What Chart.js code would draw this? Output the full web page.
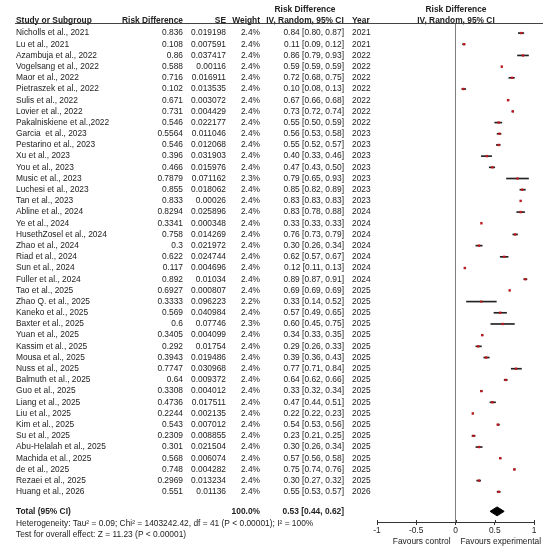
<!DOCTYPE html>
<html>
<head>
<meta charset="utf-8">
<script src="https://cdn.jsdelivr.net/npm/chart.js@4"></script>
<style>
  html, body { margin: 0; padding: 0; background: #fff; }
  #wrap { width: 550px; height: 553px; }
</style>
</head>
<body>
<div id="wrap"><canvas id="forest" width="550" height="553"></canvas></div>
<script>
// --- data ---
const studies = [
  "Nicholls et al., 2021", "Lu et al., 2021", "Azambuja et al., 2022", "Vogelsang et al., 2022",
  "Maor et al., 2022", "Pietraszek et al., 2022", "Sulis et al., 2022", "Lovier et al., 2022",
  "Pakalniskiene et al.,2022", "Garcia  et al., 2023", "Pestarino et al., 2023", "Xu et al., 2023",
  "You et al., 2023", "Music et al., 2023", "Luchesi et al., 2023", "Tan et al., 2023",
  "Abline et al., 2024", "Ye et al., 2024", "HusethZosel et al., 2024", "Zhao et al., 2024",
  "Riad et al., 2024", "Sun et al., 2024", "Fuller et al., 2024", "Tao et al., 2025",
  "Zhao Q. et al., 2025", "Kaneko et al., 2025", "Baxter et al., 2025", "Yuan et al., 2025",
  "Kassim et al., 2025", "Mousa et al., 2025", "Nuss et al., 2025", "Balmuth et al., 2025",
  "Guo et al., 2025", "Liang et al., 2025", "Liu et al., 2025", "Kim et al., 2025",
  "Su et al., 2025", "Abu-Helalah et al., 2025", "Machida et al., 2025", "de et al., 2025",
  "Rezaei et al., 2025", "Huang et al., 2026"
];
const riskDiff = [
  "0.836", "0.108", "0.86", "0.588", "0.716", "0.102", "0.671", "0.731", "0.546", "0.5564",
  "0.546", "0.396", "0.466", "0.7879", "0.855", "0.833", "0.8294", "0.3341", "0.758", "0.3",
  "0.622", "0.117", "0.892", "0.6927", "0.3333", "0.569", "0.6", "0.3405", "0.292", "0.3943",
  "0.7747", "0.64", "0.3308", "0.4736", "0.2244", "0.543", "0.2309", "0.301", "0.568", "0.748",
  "0.2969", "0.551"
];
const stdErr = [
  "0.019198", "0.007591", "0.037417", "0.00116", "0.016911", "0.013535", "0.003072", "0.004429",
  "0.022177", "0.011046", "0.012068", "0.031903", "0.015976", "0.071162", "0.018062", "0.00026",
  "0.025896", "0.000348", "0.014269", "0.021972", "0.024744", "0.004696", "0.01034", "0.000807",
  "0.096223", "0.040984", "0.07746", "0.004099", "0.01754", "0.019486", "0.030968", "0.009372",
  "0.004012", "0.017511", "0.002135", "0.007012", "0.008855", "0.021504", "0.006074", "0.004282",
  "0.013234", "0.01136"
];
const weights = [
  2.4, 2.4, 2.4, 2.4, 2.4, 2.4, 2.4, 2.4, 2.4, 2.4, 2.4, 2.4, 2.4, 2.3, 2.4, 2.4, 2.4, 2.4, 2.4, 2.4,
  2.4, 2.4, 2.4, 2.4, 2.2, 2.4, 2.3, 2.4, 2.4, 2.4, 2.4, 2.4, 2.4, 2.4, 2.4, 2.4, 2.4, 2.4, 2.4, 2.4,
  2.4, 2.4
];
const estimate = [
  0.84, 0.11, 0.86, 0.59, 0.72, 0.10, 0.67, 0.73, 0.55, 0.56, 0.55, 0.40, 0.47, 0.79, 0.85, 0.83,
  0.83, 0.33, 0.76, 0.30, 0.62, 0.12, 0.89, 0.69, 0.33, 0.57, 0.60, 0.34, 0.29, 0.39, 0.77, 0.64,
  0.33, 0.47, 0.22, 0.54, 0.23, 0.30, 0.57, 0.75, 0.30, 0.55
];
const ciLow = [
  0.80, 0.09, 0.79, 0.59, 0.68, 0.08, 0.66, 0.72, 0.50, 0.53, 0.52, 0.33, 0.43, 0.65, 0.82, 0.83,
  0.78, 0.33, 0.73, 0.26, 0.57, 0.11, 0.87, 0.69, 0.14, 0.49, 0.45, 0.33, 0.26, 0.36, 0.71, 0.62,
  0.32, 0.44, 0.22, 0.53, 0.21, 0.26, 0.56, 0.74, 0.27, 0.53
];
const ciHigh = [
  0.87, 0.12, 0.93, 0.59, 0.75, 0.13, 0.68, 0.74, 0.59, 0.58, 0.57, 0.46, 0.50, 0.93, 0.89, 0.83,
  0.88, 0.33, 0.79, 0.34, 0.67, 0.13, 0.91, 0.69, 0.52, 0.65, 0.75, 0.35, 0.33, 0.43, 0.84, 0.66,
  0.34, 0.51, 0.23, 0.56, 0.25, 0.34, 0.58, 0.76, 0.32, 0.57
];
const years = [
  2021, 2021, 2022, 2022, 2022, 2022, 2022, 2022, 2022, 2023, 2023, 2023, 2023, 2023, 2023, 2023,
  2024, 2024, 2024, 2024, 2024, 2024, 2024, 2025, 2025, 2025, 2025, 2025, 2025, 2025, 2025, 2025,
  2025, 2025, 2025, 2025, 2025, 2025, 2025, 2025, 2025, 2026
];
const pooled = { est: 0.53, low: 0.44, high: 0.62 };
const xTicks = [-1, -0.5, 0, 0.5, 1];

// --- layout ---
const FONT = "'Liberation Sans', Arial, sans-serif";
const FS = 8.4;
const TEXT = "#222";
const totalRow = studies.length + 0.8;

Chart.defaults.font.family = FONT;
Chart.defaults.font.size = FS;
Chart.defaults.color = TEXT;

// columns drawn next to the plot
const tablePlugin = {
  id: "table",
  afterDraw(chart) {
    const { ctx } = chart;
    const y = chart.scales.y;
    const x = chart.scales.x;
    const py = v => y.getPixelForValue(v);
    const put = (s, px, v, align, bold, abs) => {
      ctx.font = (bold ? "bold " : "") + FS + "px " + FONT;
      ctx.textAlign = align;
      ctx.fillText(s, px, abs ? v : py(v));
    };
    ctx.save();
    ctx.fillStyle = TEXT;
    ctx.textBaseline = "middle";

    // header
    put("Risk Difference", 305, -2.05, "center", true);
    put("Risk Difference", 456, -2.05, "center", true);
    put("Study or Subgroup", 16, -1.1, "left", true);
    put("Risk Difference", 183, -1.1, "right", true);
    put("SE", 226, -1.1, "right", true);
    put("Weight", 260, -1.1, "right", true);
    put("IV, Random, 95% CI", 305, -1.1, "center", true);
    put("Year", 352, -1.1, "left", true);
    put("IV, Random, 95% CI", 456, -1.1, "center", true);

    ctx.strokeStyle = "#444";
    ctx.lineWidth = 1;
    ctx.beginPath();
    ctx.moveTo(15, Math.round(py(-0.9)) + 0.5);
    ctx.lineTo(543, Math.round(py(-0.9)) + 0.5);
    ctx.stroke();

    // tick marks also reach a little above the axis line
    const axisY = Math.round(chart.chartArea.bottom);
    ctx.strokeStyle = "#333";
    ctx.beginPath();
    xTicks.forEach(v => {
      const tx = Math.round(x.getPixelForValue(v)) + 0.5;
      ctx.moveTo(tx, axisY - 2);
      ctx.lineTo(tx, axisY);
    });
    ctx.stroke();

    // study rows
    studies.forEach((s, i) => {
      put(s, 16, i, "left");
      put(riskDiff[i], 183, i, "right");
      put(stdErr[i], 226, i, "right");
      put(weights[i].toFixed(1) + "%", 260, i, "right");
      put(estimate[i].toFixed(2) + " [" + ciLow[i].toFixed(2) + ", " + ciHigh[i].toFixed(2) + "]", 344, i, "right");
      put(String(years[i]), 352, i, "left");
    });

    // total
    put("Total (95% CI)", 16, totalRow, "left", true);
    put("100.0%", 260, totalRow, "right", true);
    put(pooled.est.toFixed(2) + " [" + pooled.low.toFixed(2) + ", " + pooled.high.toFixed(2) + "]", 344, totalRow, "right", true);
    put("Heterogeneity: Tau\u00b2 = 0.09; Chi\u00b2 = 1403242.42, df = 41 (P < 0.00001); I\u00b2 = 100%", 16, totalRow + 1.07, "left");
    put("Test for overall effect: Z = 11.23 (P < 0.00001)", 16, totalRow + 2.05, "left");

    // favours labels
    const zero = x.getPixelForValue(0);
    put("Favours control", zero - 5, 542, "right", false, true);
    put("Favours experimental", zero + 5, 542, "left", false, true);
    ctx.restore();
  }
};

new Chart(document.getElementById("forest"), {
  type: "scatter",
  data: {
    datasets: [
      {
        type: "bar",
        indexAxis: "y",
        data: studies.map((s, i) => ({ y: i, x: [ciLow[i], ciHigh[i]] })),
        backgroundColor: "#222",
        borderWidth: 0,
        barThickness: 1,
        order: 2
      },
      {
        type: "scatter",
        data: studies.map((s, i) => ({ x: estimate[i], y: i })),
        pointStyle: "rect",
        pointRadius: weights.map(w => w * 0.7),
        backgroundColor: "#c0161d",
        borderWidth: 0,
        order: 1
      },
      {
        type: "scatter",
        showLine: true,
        data: [
          { x: pooled.low, y: totalRow - 0.05 },
          { x: pooled.est, y: totalRow - 0.45 },
          { x: pooled.high, y: totalRow - 0.05 },
          { x: pooled.est, y: totalRow + 0.35 },
          { x: pooled.low, y: totalRow - 0.05 }
        ],
        borderColor: "#000",
        backgroundColor: "#000",
        borderWidth: 1,
        pointRadius: 0,
        fill: "shape",
        order: 0
      }
    ]
  },
  options: {
    responsive: false,
    animation: false,
    devicePixelRatio: 1,
    layout: { padding: { left: 377, right: 16, top: 23, bottom: 13 } },
    plugins: {
      legend: { display: false },
      tooltip: { enabled: false }
    },
    scales: {
      x: {
        type: "linear",
        min: -1,
        max: 1,
        offset: false,
        afterBuildTicks: axis => { axis.ticks = xTicks.map(v => ({ value: v })); },
        afterFit: axis => { axis.height = 18; },
        ticks: {
          padding: 1,
          color: TEXT,
          font: { size: FS },
          callback: v => String(v)
        },
        grid: {
          offset: false,
          color: c => (c.tick && c.tick.value === 0 ? "#808080" : "rgba(0,0,0,0)"),
          lineWidth: 1,
          tickColor: "#333",
          tickLength: 3
        },
        border: { display: true, color: "#333", width: 1 }
      },
      y: {
        type: "linear",
        reverse: true,
        offset: false,
        min: -0.9,
        max: 43.7,
        display: false
      }
    }
  },
  plugins: [tablePlugin]
});
</script>
</body>
</html>
